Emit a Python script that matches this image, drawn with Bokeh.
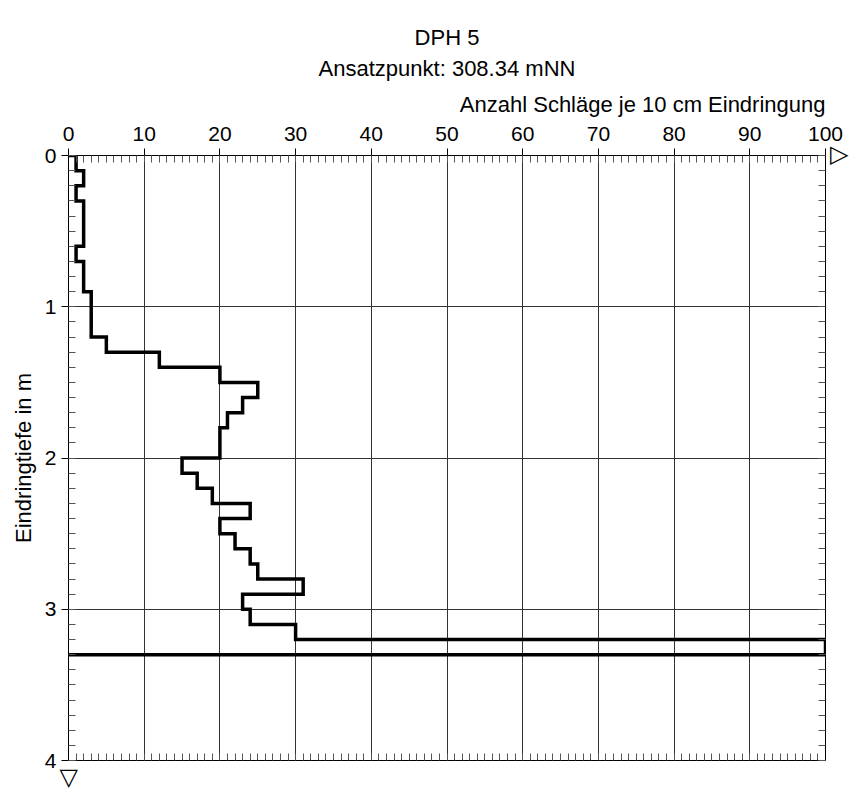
from bokeh.plotting import figure
from bokeh.models import (Range1d, LinearAxis, SingleIntervalTicker, FixedTicker,
                          Title)
from bokeh.embed import file_html
from bokeh.resources import INLINE

# ---- data -----------------------------------------------------------------
depth_step = 0.1  # m per interval
blows = [1, 2, 1, 2, 2, 2, 1, 2, 2, 3,
         3, 3, 5, 12, 20, 25, 23, 21, 20, 20,
         15, 17, 19, 24, 20, 22, 24, 25, 31, 23,
         24, 30, 100]
x_max = 100
y_max = 4
x_ticks_major = 10
y_ticks_major = 1
title_text = "DPH 5"
subtitle_text = "Ansatzpunkt: 308.34 mNN"
x_label = "Anzahl Schläge je 10 cm Eindringung"
y_label = "Eindringtiefe in m"

# step path (depth downward)
xs = [0]
ys = [0.0]
for i, b in enumerate(blows):
    top = round(i * depth_step, 3)
    bot = round((i + 1) * depth_step, 3)
    xs += [b, b]
    ys += [top, bot]
xs.append(0)
ys.append(ys[-1])

FONT = "Liberation Sans"

p = figure(width=857, height=799, x_range=Range1d(0, x_max), y_range=Range1d(y_max, 0),
           x_axis_location="above", output_backend="svg", toolbar_location=None,
           min_border_left=68, min_border_right=32, min_border_top=155,
           min_border_bottom=39)
p.background_fill_color = "white"
p.border_fill_color = "white"
p.outline_line_color = None

xt = SingleIntervalTicker(interval=x_ticks_major, num_minor_ticks=10)
yt = SingleIntervalTicker(interval=y_ticks_major, num_minor_ticks=10)
# minor-only tickers for the unlabeled right / bottom axes
xt_minor = FixedTicker(ticks=[], minor_ticks=[i for i in range(0, x_max + 1)])
yt_minor = FixedTicker(ticks=[], minor_ticks=[round(i * 0.1, 1) for i in range(0, y_max * 10 + 1)])

def style_axis(ax, ticker, tick_out=7):
    ax.ticker = ticker
    ax.axis_line_color = "black"
    ax.axis_line_width = 1
    ax.major_tick_line_color = "black"
    ax.major_tick_out = tick_out
    ax.major_tick_in = 0
    ax.minor_tick_line_color = "#555555"
    ax.minor_tick_in = 7
    ax.minor_tick_out = 0
    ax.major_label_text_font = FONT
    ax.major_label_text_font_size = "21px"
    ax.major_label_text_color = "black"

style_axis(p.xaxis[0], xt)
p.xaxis[0].major_label_standoff = 8
style_axis(p.yaxis[0], yt)
p.yaxis[0].major_label_standoff = 5
p.yaxis[0].axis_label = y_label
p.yaxis[0].axis_label_text_font = FONT
p.yaxis[0].axis_label_text_font_size = "22px"
p.yaxis[0].axis_label_text_font_style = "normal"
p.yaxis[0].axis_label_text_color = "black"
p.yaxis[0].axis_label_standoff = 6

rax = LinearAxis()
style_axis(rax, yt_minor, tick_out=0)
rax.major_label_standoff = 0
p.add_layout(rax, "right")
bax = LinearAxis()
style_axis(bax, xt_minor, tick_out=0)
bax.major_label_standoff = 0
p.add_layout(bax, "below")

for g in (p.xgrid[0], p.ygrid[0]):
    g.grid_line_color = "#333333"
    g.grid_line_width = 1

# titles
t_anz = Title(text=x_label, align="right", text_font=FONT, text_font_size="22px",
              text_font_style="normal", text_color="black", standoff=13)
p.add_layout(t_anz, "above")
t_sub = Title(text=subtitle_text, align="center", text_font=FONT, text_font_size="22px",
              text_font_style="normal", text_color="black", standoff=6)
p.add_layout(t_sub, "above")
p.title.text = title_text
p.title.align = "center"
p.title.text_font = FONT
p.title.text_font_size = "22px"
p.title.text_font_style = "normal"
p.title.text_color = "black"
p.title.standoff = 2

# data line
p.line(xs, ys, line_color="black", line_width=3.5, line_join="miter")

# open arrow heads at the axis ends (drawn as text in the side panels)
p.add_layout(Title(text="△", text_font="DejaVu Sans", text_font_size="24px",
                   text_font_style="normal", text_color="black", align="left",
                   offset=-9, standoff=2), "right")
p.add_layout(Title(text="▽", text_font="DejaVu Sans", text_font_size="24px",
                   text_font_style="normal", text_color="black", align="left",
                   offset=-9, standoff=0), "below")

open("out.html", "w").write(file_html(p, INLINE))
